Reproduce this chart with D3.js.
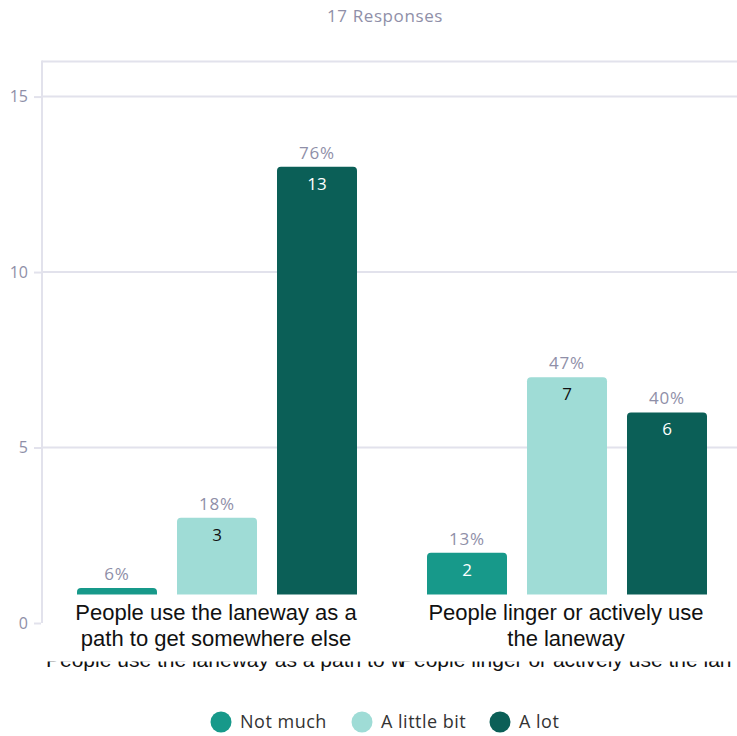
<!DOCTYPE html>
<html><head><meta charset="utf-8">
<script src="https://cdn.jsdelivr.net/npm/d3@7"></script>
<style>body{margin:0;background:#fff}svg{display:block}</style>
</head><body>
<svg id="c" width="737" height="736"></svg>
<script>
const categories = ["People use the laneway as a path to get somewhere else", "People linger or actively use the laneway"];
const categoryLines = [["People use the laneway as a", "path to get somewhere else"], ["People linger or actively use", "the laneway"]];
const seriesNames = ["Not much", "A little bit", "A lot"];
const notMuch = [1, 2];
const aLittleBit = [3, 7];
const aLot = [13, 6];
const percents = [["6%", "18%", "76%"], ["13%", "47%", "40%"]];
const yTicks = [0, 5, 10, 15];
const colors = ["#17998a", "#9fdcd6", "#0b5f57"];
const valueColors = ["#ffffff", "#111111", "#ffffff"];
const title = "17 Responses";
const truncatedLabels = ["People use the laneway as a path to w", "People linger or actively use the lan"];

const series = [notMuch, aLittleBit, aLot];
const svg = d3.select("#c");
const font = "'Open Sans', Lato, sans-serif";
const gray = "#8f8fa8";

const y = d3.scaleLinear().domain([0, 16]).range([623, 61.5]);
const x0 = d3.scaleBand().domain(categories).range([42, 742]).padding(0);
const x1 = d3.scaleBand().domain(seriesNames).range([35, 315]).paddingInner(0.2).paddingOuter(0);

svg.append("text").attr("x", 385).attr("y", 22).attr("text-anchor", "middle")
  .attr("font-family", font).attr("font-size", 17).attr("letter-spacing", 0.6).attr("fill", gray).text(title);

// grid
svg.append("g").selectAll("line").data(yTicks.filter(d => d > 0).concat([16])).join("line")
  .attr("x1", 42).attr("x2", 737).attr("y1", d => y(d)).attr("y2", d => y(d))
  .attr("stroke", "#e2e2ec").attr("stroke-width", 2);
svg.append("line").attr("x1", 42).attr("x2", 42).attr("y1", y(16) - 1).attr("y2", y(0))
  .attr("stroke", "#e2e2ec").attr("stroke-width", 2);

// y axis
const yAxis = d3.axisLeft(y).tickValues(yTicks).tickSize(7).tickPadding(6);
const ga = svg.append("g").attr("transform", "translate(41,0)").call(yAxis);
ga.select(".domain").remove();
ga.selectAll(".tick line").attr("stroke", "#e2e2ec").attr("stroke-width", 2);
ga.selectAll(".tick text").attr("fill", gray).attr("font-family", font).attr("font-size", 16);

// bars
const r = 4;
function topRounded(xp, yp, w, h) {
  return `M${xp},${yp + h}V${yp + r}Q${xp},${yp} ${xp + r},${yp}H${xp + w - r}Q${xp + w},${yp} ${xp + w},${yp + r}V${yp + h}Z`;
}
const data = [];
categories.forEach((c, ci) => seriesNames.forEach((s, si) => data.push({c, ci, s, si, v: series[si][ci], p: percents[ci][si]})));
const g = svg.append("g");
g.selectAll("path").data(data).join("path")
  .attr("d", d => topRounded(x0(d.c) + x1(d.s), y(d.v), x1.bandwidth(), y(0) - y(d.v)))
  .attr("fill", d => colors[d.si]);
g.selectAll("text.pct").data(data).join("text").attr("class", "pct")
  .attr("x", d => x0(d.c) + x1(d.s) + x1.bandwidth() / 2).attr("y", d => y(d.v) - 8)
  .attr("text-anchor", "middle").attr("font-family", font).attr("font-size", 17).attr("letter-spacing", 0.8).attr("fill", gray)
  .text(d => d.p);
g.selectAll("text.val").data(data).join("text").attr("class", "val")
  .attr("x", d => x0(d.c) + x1(d.s) + x1.bandwidth() / 2).attr("y", d => y(d.v) + 23)
  .attr("text-anchor", "middle").attr("font-family", font).attr("font-size", 17).attr("fill", d => valueColors[d.si])
  .text(d => d.v);

// clipped overlapping label line
const narrow = "'Liberation Sans Narrow', 'Arial Narrow', sans-serif";
svg.append("text").attr("x", 46).attr("y", 667).attr("font-family", narrow).attr("font-size", 21).attr("fill", "#111")
  .text(truncatedLabels[0]);
svg.append("text").attr("x", 400).attr("y", 667).attr("font-family", narrow).attr("font-size", 21).attr("fill", "#111")
  .text(truncatedLabels[1]);

// white label box
svg.append("rect").attr("x", 43).attr("y", 594.5).attr("width", 694).attr("height", 67).attr("fill", "#fff");
categories.forEach((c, ci) => {
  const t = svg.append("text").attr("text-anchor", "middle").attr("font-family", narrow)
    .attr("font-size", 22).attr("fill", "#111");
  categoryLines[ci].forEach((ln, li) => {
    t.append("tspan").attr("x", x0(c) + x0.bandwidth() / 2 - 1).attr("y", 620 + li * 26).text(ln);
  });
});

// legend
const lx = [221, 362, 500];
const lg = svg.append("g");
seriesNames.forEach((s, i) => {
  lg.append("circle").attr("cx", lx[i]).attr("cy", 722).attr("r", 10.5).attr("fill", colors[i]);
  lg.append("text").attr("x", lx[i] + 19).attr("y", 728).attr("font-family", font).attr("font-size", 18)
    .attr("letter-spacing", 0.5).attr("fill", "#333").text(s);
});
</script>
</body></html>
